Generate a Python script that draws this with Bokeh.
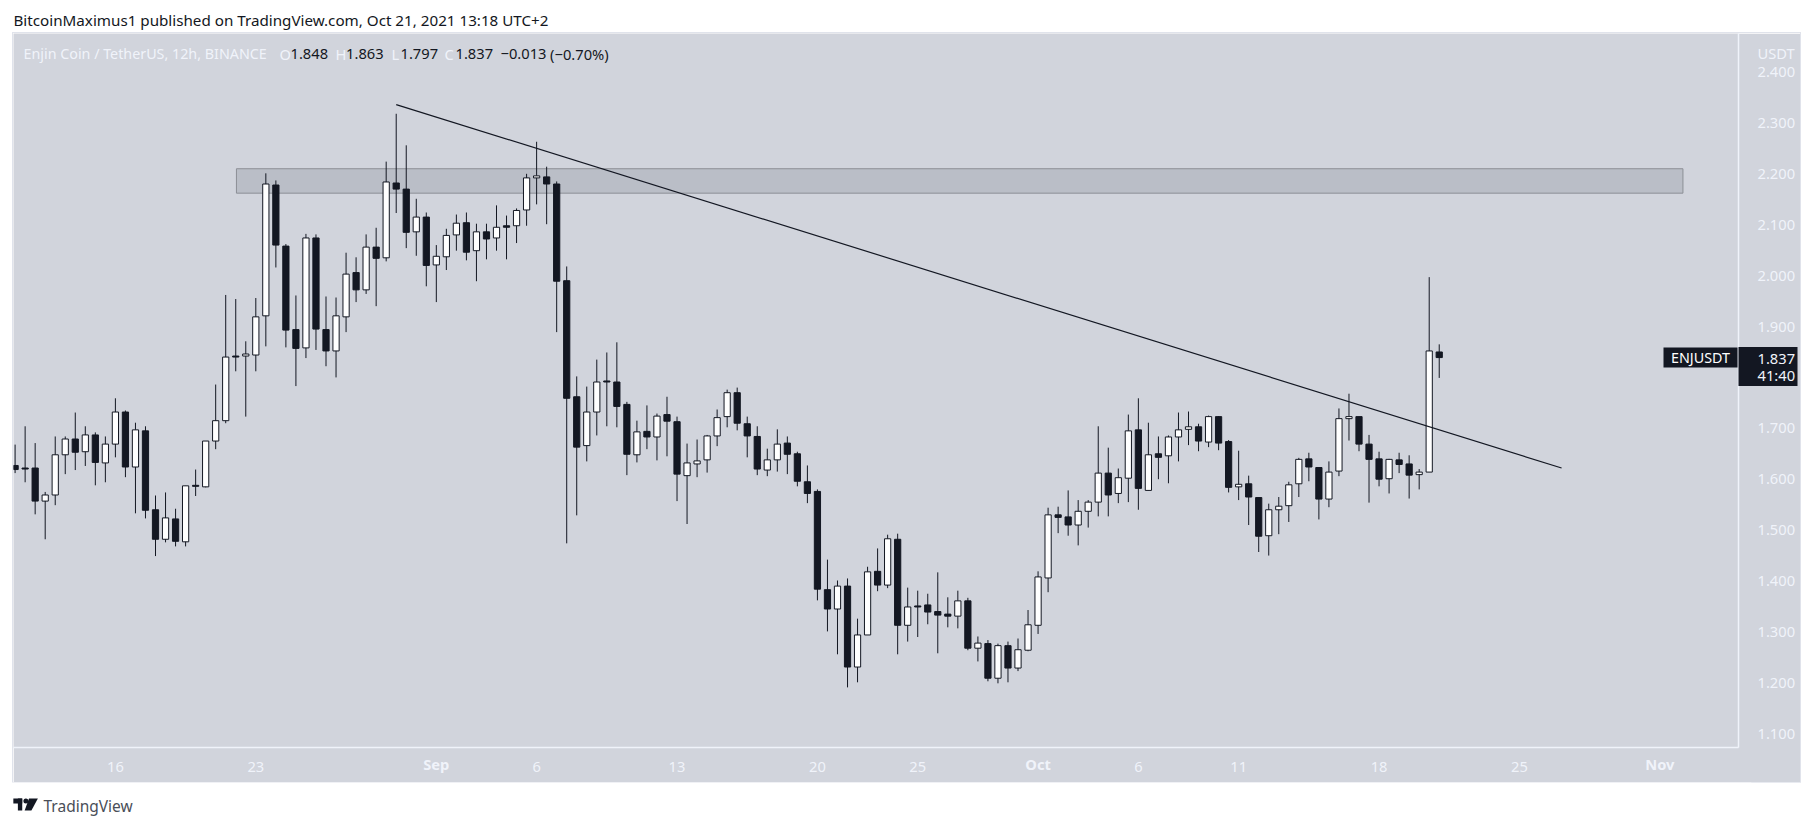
from bokeh.plotting import figure
from bokeh.layouts import column
from bokeh.models import Range1d, FixedTicker, Label, BoxAnnotation, LinearAxis
from bokeh.embed import file_html
from bokeh.resources import INLINE

# ---- data: one row per 12h candle (open, high, low, close) ----
opens = [1.625,1.620,1.620,1.555,1.567,1.646,1.677,1.652,1.685,1.630,1.667,1.730,1.622,1.693,1.538,1.480,1.520,1.475,1.586,1.583,
         1.673,1.713,1.840,1.840,1.842,1.919,2.176,2.056,1.892,1.856,2.072,1.892,1.850,1.917,2.004,1.970,2.054,2.033,2.180,2.168,
         2.084,2.113,2.019,2.035,2.078,2.102,2.047,2.084,2.072,2.096,2.096,2.127,2.190,2.192,2.178,1.988,1.760,1.664,1.730,1.791,
         1.789,1.745,1.646,1.692,1.681,1.725,1.711,1.605,1.628,1.636,1.683,1.721,1.768,1.707,1.682,1.616,1.636,1.669,1.648,1.593,
         1.574,1.381,1.343,1.388,1.229,1.292,1.417,1.390,1.480,1.311,1.349,1.351,1.338,1.333,1.329,1.359,1.266,1.275,1.207,1.271,
         1.227,1.262,1.311,1.404,1.528,1.524,1.508,1.535,1.553,1.610,1.570,1.600,1.695,1.576,1.648,1.644,1.681,1.696,1.701,1.671,
         1.721,1.672,1.583,1.589,1.562,1.487,1.538,1.546,1.589,1.638,1.621,1.559,1.614,1.717,1.721,1.667,1.638,1.599,1.636,1.628,
         1.607,1.612,1.848]
highs = [1.666,1.702,1.669,1.573,1.682,1.682,1.729,1.702,1.690,1.682,1.757,1.733,1.709,1.702,1.566,1.572,1.540,1.585,1.617,1.673,
         1.784,1.960,1.952,1.869,1.954,2.199,2.185,2.060,1.959,2.080,2.079,1.957,1.955,2.043,2.034,2.079,2.092,2.222,2.316,2.254,
         2.149,2.122,2.058,2.090,2.118,2.122,2.100,2.100,2.136,2.116,2.130,2.198,2.261,2.212,2.183,2.016,1.800,1.780,1.833,1.847,
         1.867,1.750,1.713,1.743,1.727,1.760,1.721,1.668,1.676,1.685,1.735,1.774,1.778,1.721,1.702,1.658,1.696,1.682,1.652,1.625,
         1.578,1.440,1.399,1.403,1.324,1.426,1.462,1.489,1.491,1.385,1.379,1.373,1.415,1.366,1.379,1.365,1.289,1.282,1.275,1.279,
         1.285,1.341,1.417,1.542,1.544,1.576,1.557,1.557,1.702,1.660,1.619,1.725,1.757,1.709,1.682,1.684,1.729,1.731,1.707,1.723,
         1.722,1.675,1.654,1.605,1.562,1.550,1.563,1.593,1.640,1.650,1.622,1.633,1.737,1.766,1.721,1.685,1.652,1.638,1.650,1.645,
         1.618,1.995,1.863]
lows = [1.610,1.592,1.529,1.480,1.547,1.608,1.616,1.624,1.586,1.592,1.641,1.602,1.531,1.521,1.447,1.474,1.466,1.466,1.565,1.582,
        1.657,1.708,1.810,1.721,1.810,1.859,2.014,1.857,1.781,1.836,1.852,1.820,1.798,1.887,1.946,1.962,1.938,2.026,2.121,2.052,
        2.037,1.977,1.946,2.009,2.047,2.028,1.987,2.030,2.047,2.030,2.062,2.096,2.138,2.099,1.887,1.472,1.527,1.633,1.684,1.702,
        1.700,1.606,1.631,1.657,1.635,1.643,1.555,1.510,1.602,1.611,1.663,1.700,1.694,1.641,1.606,1.604,1.613,1.608,1.584,1.551,
        1.360,1.299,1.254,1.189,1.199,1.292,1.378,1.384,1.254,1.279,1.288,1.313,1.256,1.307,1.305,1.262,1.240,1.201,1.197,1.199,
        1.221,1.260,1.294,1.376,1.492,1.487,1.468,1.503,1.525,1.525,1.551,1.553,1.538,1.576,1.598,1.590,1.633,1.665,1.653,1.661,
        1.655,1.572,1.557,1.508,1.455,1.448,1.490,1.514,1.563,1.594,1.519,1.543,1.604,1.674,1.653,1.552,1.584,1.570,1.610,1.560,
        1.578,1.612,1.797]
closes = [1.617,1.618,1.555,1.567,1.646,1.677,1.651,1.685,1.631,1.667,1.730,1.622,1.695,1.537,1.480,1.522,1.476,1.585,1.584,1.673,
          1.713,1.838,1.838,1.844,1.917,2.178,2.058,1.891,1.855,2.072,1.893,1.850,1.919,2.001,1.970,2.054,2.032,2.182,2.168,2.083,
          2.113,2.018,2.036,2.077,2.101,2.044,2.084,2.070,2.093,2.093,2.126,2.190,2.194,2.178,1.987,1.757,1.661,1.730,1.789,1.789,
          1.741,1.647,1.691,1.681,1.722,1.712,1.608,1.630,1.634,1.683,1.719,1.768,1.708,1.683,1.618,1.636,1.667,1.647,1.594,1.570,
          1.382,1.343,1.388,1.229,1.292,1.416,1.390,1.481,1.311,1.347,1.347,1.337,1.331,1.329,1.359,1.266,1.276,1.207,1.271,1.227,
          1.263,1.312,1.406,1.528,1.523,1.508,1.535,1.553,1.610,1.567,1.601,1.693,1.580,1.646,1.641,1.681,1.695,1.701,1.673,1.721,
          1.669,1.582,1.588,1.563,1.486,1.538,1.545,1.587,1.637,1.622,1.559,1.612,1.717,1.721,1.667,1.637,1.598,1.637,1.627,1.606,
          1.612,1.850,1.837]

candle_index = list(range(len(opens)))

trend_x = [38.0, 154.2]
trend_price = [2.334, 1.620]
zone_left, zone_right, zone_top, zone_bottom = 22.07, 166.3, 2.208, 2.160

price_ticks = [1.1,1.2,1.3,1.4,1.5,1.6,1.7,1.837,1.802,1.9,2.0,2.1,2.2,2.3,2.4,2.436]
price_labels = ["1.100","1.200","1.300","1.400","1.500","1.600","1.700","1.837","41:40",
                "1.900","2.000","2.100","2.200","2.300","2.400","USDT"]
day_ticks = [10, 24, 52, 66, 80, 90, 112, 122, 136, 150]
day_labels = ["16","23","6","13","20","25","6","11","18","25"]
month_ticks = [42, 102, 164]
month_labels = ["Sep","Oct","Nov"]
last_price_tag = 1.8185

BG = "#d1d4dc"; DARK = "#131722"; PALE = "#f0f3fa"; FONT = "Noto Sans"; FS = "14.7px"
X0, X1, Y0, Y1 = -0.16, 171.84, 1.0709, 2.4737

# last-price tag: one very thick tick, placed next to the frame; price labels are pulled back over it
tag = LinearAxis(ticker=FixedTicker(ticks=[last_price_tag]), major_label_overrides={last_price_tag: ""},
                 major_label_standoff=0, axis_line_color=PALE, axis_line_width=1.5, minor_tick_line_color=None,
                 major_tick_line_color=DARK, major_tick_line_width=39, major_tick_in=0, major_tick_out=59)

p = figure(width=1787, height=749, output_backend="svg", toolbar_location=None,
           x_range=Range1d(X0, X1), y_range=Range1d(Y0, Y1),
           y_axis_location="right",
           min_border_left=0, min_border_right=62, min_border_top=0, min_border_bottom=35,
           margin=(0, 0, 0, 13),
           background_fill_color=BG, border_fill_color=BG, outline_line_color=None,
           styles={"outline": "1px solid #e0e3eb"})
p.grid.visible = False

def style_axis(ax, bold=False):
    ax.major_tick_line_color = None
    ax.minor_tick_line_color = None
    ax.major_label_text_color = PALE
    ax.major_label_text_font = FONT
    ax.major_label_text_font_size = FS
    if bold:
        ax.major_label_text_font_style = "bold"

# time axes: plain days and bold month names sharing one row of labels
xa = p.xaxis[0]
style_axis(xa)
xa.axis_line_color = PALE
xa.axis_line_width = 1.5
xa.ticker = FixedTicker(ticks=day_ticks)
xa.major_label_overrides = dict(zip(day_ticks, day_labels))
xa.major_label_standoff = 8

xm = LinearAxis(ticker=FixedTicker(ticks=month_ticks),
                major_label_overrides=dict(zip(month_ticks, month_labels)),
                major_label_standoff=-27, axis_line_color=None)
style_axis(xm, bold=True)
p.add_layout(xm, "below")

ya = p.yaxis[0]
style_axis(ya)
ya.axis_line_color = None
ya.ticker = FixedTicker(ticks=price_ticks)
ya.major_label_overrides = dict(zip(price_ticks, price_labels))
ya.major_label_standoff = -46
p.right = [tag, ya]

# zone, candles, trendline
p.quad(left=zone_left, right=zone_right, top=zone_top, bottom=zone_bottom,
       fill_color="#787b86", fill_alpha=0.25, line_color="#8c8f96", line_width=1)
p.segment(candle_index, highs, candle_index, lows, line_color=DARK, line_width=1)
body_top = [max(a, b) for a, b in zip(opens, closes)]
body_bot = [min(a, b) for a, b in zip(opens, closes)]
fills = ["white" if c >= o else DARK for o, c in zip(opens, closes)]
p.vbar(x=candle_index, width=0.62, top=body_top, bottom=body_bot,
       fill_color=fills, line_color=DARK, line_width=1)
p.line(trend_x, trend_price, line_color=DARK, line_width=1.2)

def text(fig, t, x, y, color=DARK, size=FS, align="left", ox=0, oy=0):
    fig.add_layout(Label(x=x - ox, y=y - oy, x_units="canvas", y_units="canvas", text=t,
                         text_color=color, text_font=FONT, text_font_size=size,
                         text_align=align, text_baseline="middle"))

LX, LY = 13, 33
text(p, "Enjin Coin / TetherUS, 12h, BINANCE", 23, 53, PALE, size="14.3px", ox=LX, oy=LY)
for t, x, c in [("O", 279, PALE), ("1.848", 290, DARK), ("H", 335, PALE), ("1.863", 345.6, DARK),
                ("L", 391, PALE), ("1.797", 400, DARK), ("C", 444, PALE), ("1.837", 455, DARK),
                ("\u22120.013", 500, DARK), ("(\u22120.70%)", 549.6, DARK)]:
    text(p, t, x, 53, c, ox=LX, oy=LY)

p.add_layout(BoxAnnotation(left=1663 - LX, right=1737 - LX, top=347 - LY, bottom=367 - LY,
                           left_units="canvas", right_units="canvas", top_units="canvas", bottom_units="canvas",
                           fill_color=DARK, fill_alpha=1, line_color=None))
text(p, "ENJUSDT", 1700, 357, "white", size="14.3px", align="center", ox=LX, oy=LY)

# header strip
head = figure(width=1813, height=33, output_backend="svg", toolbar_location=None, x_axis_type=None, y_axis_type=None,
              x_range=Range1d(0, 1813), y_range=Range1d(33, 0), min_border=0, outline_line_color=None,
              background_fill_color="white", border_fill_color="white")
head.grid.visible = False
text(head, "BitcoinMaximus1 published on TradingView.com, Oct 21, 2021 13:18 UTC+2", 13, 19, size="15.2px")

# footer strip (page coordinates)
foot = figure(width=1813, height=36, output_backend="svg", toolbar_location=None, x_axis_type=None, y_axis_type=None,
              x_range=Range1d(0, 1813), y_range=Range1d(818, 782), min_border=0, outline_line_color=None,
              background_fill_color="white", border_fill_color="white")
foot.grid.visible = False
foot.quad(left=[13.3, 18], right=[22.5, 22.5], top=[798, 798], bottom=[803, 810], fill_color=DARK, line_color=None)
foot.patch([29.5, 38.7, 32, 25], [798, 798, 810, 810], fill_color=DARK, line_color=None)
foot.scatter([26.3], [800.5], size=5, fill_color=DARK, line_color=None)
text(foot, "TradingView", 43, 805, "#4a4e58", size="15.5px", oy=782)

open("out.html", "w").write(file_html(column(head, p, foot, spacing=0), INLINE))
